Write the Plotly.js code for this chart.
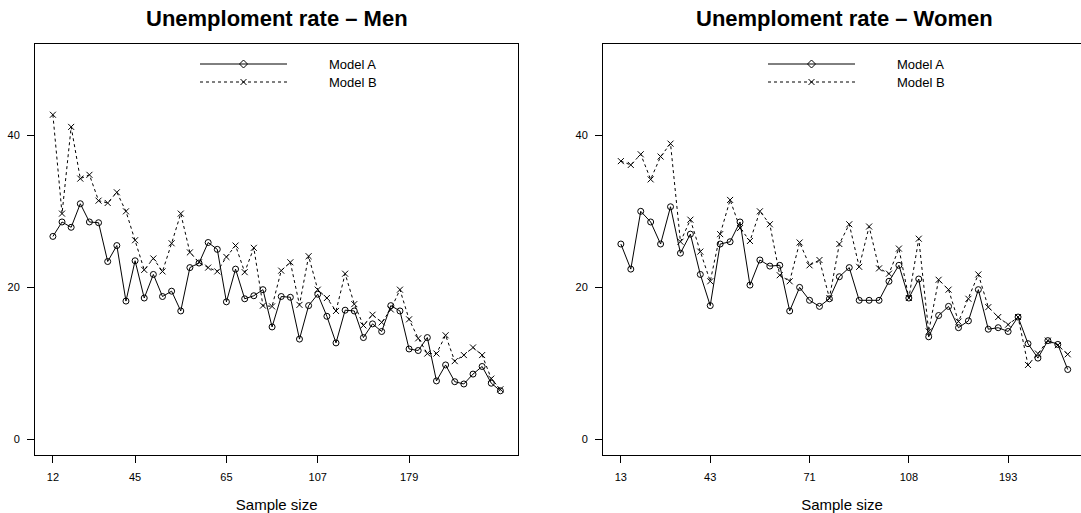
<!DOCTYPE html>
<html>
<head>
<meta charset="utf-8">
<script src="https://cdn.plot.ly/plotly-3.0.1.min.js"></script>
<style>html,body{margin:0;padding:0;background:#fff;}#chart{width:1081px;height:513px;}</style>
</head>
<body>
<div id="chart"></div>
<script>
// ---- data ----
const panelTitles = ['Unemploment rate \u2013 Men', 'Unemploment rate \u2013 Women'];
const seriesNames = ['Model A', 'Model B'];
const xAxisTitle = 'Sample size';
const tickPositions = [1, 10, 20, 30, 40];
const menTickLabels = ['12', '45', '65', '107', '179'];
const womenTickLabels = ['13', '43', '71', '108', '193'];
const yTicks = [0, 20, 40];

const menModelA = [26.7,28.6,27.9,31.0,28.6,28.5,23.4,25.5,18.2,23.5,
                   18.6,21.7,18.8,19.5,16.9,22.6,23.2,25.9,25.0,18.1,
                   22.4,18.5,18.9,19.7,14.8,18.8,18.7,13.2,17.6,19.1,
                   16.2,12.7,17.0,16.9,13.4,15.2,14.2,17.6,16.9,11.9,
                   11.7,13.4,7.7,9.8,7.6,7.3,8.6,9.6,7.4,6.4];
const menModelB = [42.7,29.7,41.1,34.3,34.8,31.4,31.1,32.5,30.0,26.2,
                   22.3,23.8,22.1,25.8,29.7,24.6,23.3,22.6,22.1,24.0,
                   25.5,22.0,25.2,17.6,17.5,22.2,23.3,17.7,24.1,19.7,
                   18.6,16.9,21.8,17.8,15.0,16.4,15.4,17.1,19.7,15.8,
                   13.3,11.3,11.3,13.7,10.3,11.1,12.1,11.1,8.0,6.6];
const womenModelA = [25.7,22.4,30.0,28.6,25.7,30.6,24.5,27.0,21.7,17.6,
                     25.7,26.0,28.6,20.3,23.6,22.8,22.9,16.9,20.0,18.3,
                     17.5,18.5,21.4,22.6,18.3,18.3,18.3,20.8,22.9,18.6,
                     21.1,13.5,16.3,17.5,14.7,15.6,19.7,14.5,14.7,14.2,
                     16.1,12.6,10.7,13.0,12.5,9.2];
const womenModelB = [36.6,36.1,37.5,34.2,37.2,38.9,26.0,28.9,24.7,20.8,
                     27.0,31.5,27.8,26.1,30.0,28.3,21.6,20.8,25.9,22.9,
                     23.6,18.6,25.7,28.3,22.7,28.0,22.5,21.8,25.1,18.6,
                     26.4,14.2,21.0,19.7,15.5,18.5,21.7,17.4,16.1,15.1,
                     16.1,9.8,11.3,13.0,12.4,11.2];

// ---- build ----
const W = 1081, H = 513;
const FONT = '"Liberation Sans", Arial, Helvetica, sans-serif';
const idx = arr => arr.map((_, i) => i + 1);

const styleA = {mode: 'lines+markers', line: {color: '#000', width: 1},
  marker: {symbol: 'circle-open', size: 6, color: '#000', line: {width: 1, color: '#000'}}};
const styleB = {mode: 'lines+markers', line: {color: '#000', width: 1, dash: '3px,3px'},
  marker: {symbol: 'x-thin-open', size: 6, color: '#000', line: {width: 1, color: '#000'}}};

const traces = [
  Object.assign({x: idx(menModelA), y: menModelA, name: seriesNames[0], xaxis: 'x', yaxis: 'y'}, styleA),
  Object.assign({x: idx(menModelB), y: menModelB, name: seriesNames[1], xaxis: 'x', yaxis: 'y'}, styleB),
  Object.assign({x: idx(womenModelA), y: womenModelA, name: seriesNames[0], xaxis: 'x2', yaxis: 'y2'}, styleA),
  Object.assign({x: idx(womenModelB), y: womenModelB, name: seriesNames[1], xaxis: 'x2', yaxis: 'y2'}, styleB)
];

const px = v => v / W, py = v => 1 - v / H;
const yDom = [py(454.7), py(44)];
const menDom = [px(35), px(518.3)];
const womenDom = [px(603), 1];

function xax(dom, range, labels, anchor, mirror) {
  return {domain: dom, range: range, anchor: anchor, showgrid: false, zeroline: false,
    showline: true, linecolor: '#000', linewidth: 1, mirror: mirror,
    ticks: 'outside', ticklen: 7, tickwidth: 1, tickcolor: '#000',
    tickmode: 'array', tickvals: tickPositions, ticktext: labels, ticklabelstandoff: 5,
    tickfont: {family: FONT, size: 11, color: '#000'},
    title: {text: xAxisTitle, font: {family: FONT, size: 15, color: '#000'}, standoff: 19}};
}
function yax(anchor, mirror) {
  return {domain: yDom, range: [-2, 52], anchor: anchor, showgrid: false, zeroline: false,
    showline: true, linecolor: '#000', linewidth: 1, mirror: mirror,
    ticks: 'outside', ticklen: 7, tickwidth: 1, tickcolor: '#000',
    tickmode: 'array', tickvals: yTicks, ticklabelstandoff: 5,
    tickfont: {family: FONT, size: 11, color: '#000'}};
}

const nMen = menModelA.length, nWomen = womenModelA.length;
const menRange = [1 - 0.04 * (nMen - 1), nMen + 0.04 * (nMen - 1)];
const womenLo = 1 - 0.04 * (nWomen - 1);

// legend (drawn as shapes + text)
const shapes = [], annotations = [];
function addLegend(offset) {
  const x0 = 200 + offset, x1 = 287 + offset, xm = (x0 + x1) / 2;
  const rows = [{y: 64, dash: 'solid', sym: 'M0,-4L4,0L0,4L-4,0Z'},
                {y: 82, dash: '3px,3px', sym: 'M-3,-3L3,3M-3,3L3,-3'}];
  rows.forEach((r, k) => {
    shapes.push({type: 'line', xref: 'paper', yref: 'paper', x0: px(x0), x1: px(x1), y0: py(r.y), y1: py(r.y),
      line: {color: '#000', width: 1, dash: r.dash}});
    shapes.push({type: 'path', xref: 'paper', yref: 'paper', xsizemode: 'pixel', ysizemode: 'pixel',
      xanchor: px(xm), yanchor: py(r.y), path: r.sym, line: {color: '#000', width: 1}, fillcolor: 'rgba(0,0,0,0)'});
    annotations.push({xref: 'paper', yref: 'paper', x: px(x1 + 40), y: py(r.y), xanchor: 'left', yanchor: 'middle',
      text: seriesNames[k], showarrow: false, font: {family: FONT, size: 13, color: '#000'}});
  });
}
addLegend(0);
addLegend(568);

// panel titles
[menDom, [px(603), px(1085.6)]].forEach((d, k) => {
  annotations.push({xref: 'paper', yref: 'paper', x: (d[0] + d[1]) / 2, y: py(19), xanchor: 'center', yanchor: 'middle',
    text: '<b>' + panelTitles[k] + '</b>', showarrow: false, font: {family: FONT, size: 22, color: '#000'}});
});

const layout = {
  width: W, height: H, margin: {l: 0, r: 0, t: 0, b: 0},
  paper_bgcolor: '#fff', plot_bgcolor: '#fff', showlegend: false,
  font: {family: FONT, color: '#000'},
  xaxis: xax(menDom, menRange, menTickLabels, 'y', true),
  yaxis: yax('x', true),
  xaxis2: xax(womenDom, [womenLo, womenLo + (W - 603) / 9.93], womenTickLabels, 'y2', true),
  yaxis2: yax('x2', false),
  shapes: shapes, annotations: annotations
};

Plotly.newPlot('chart', traces, layout, {staticPlot: true, displayModeBar: false});
</script>
</body>
</html>
